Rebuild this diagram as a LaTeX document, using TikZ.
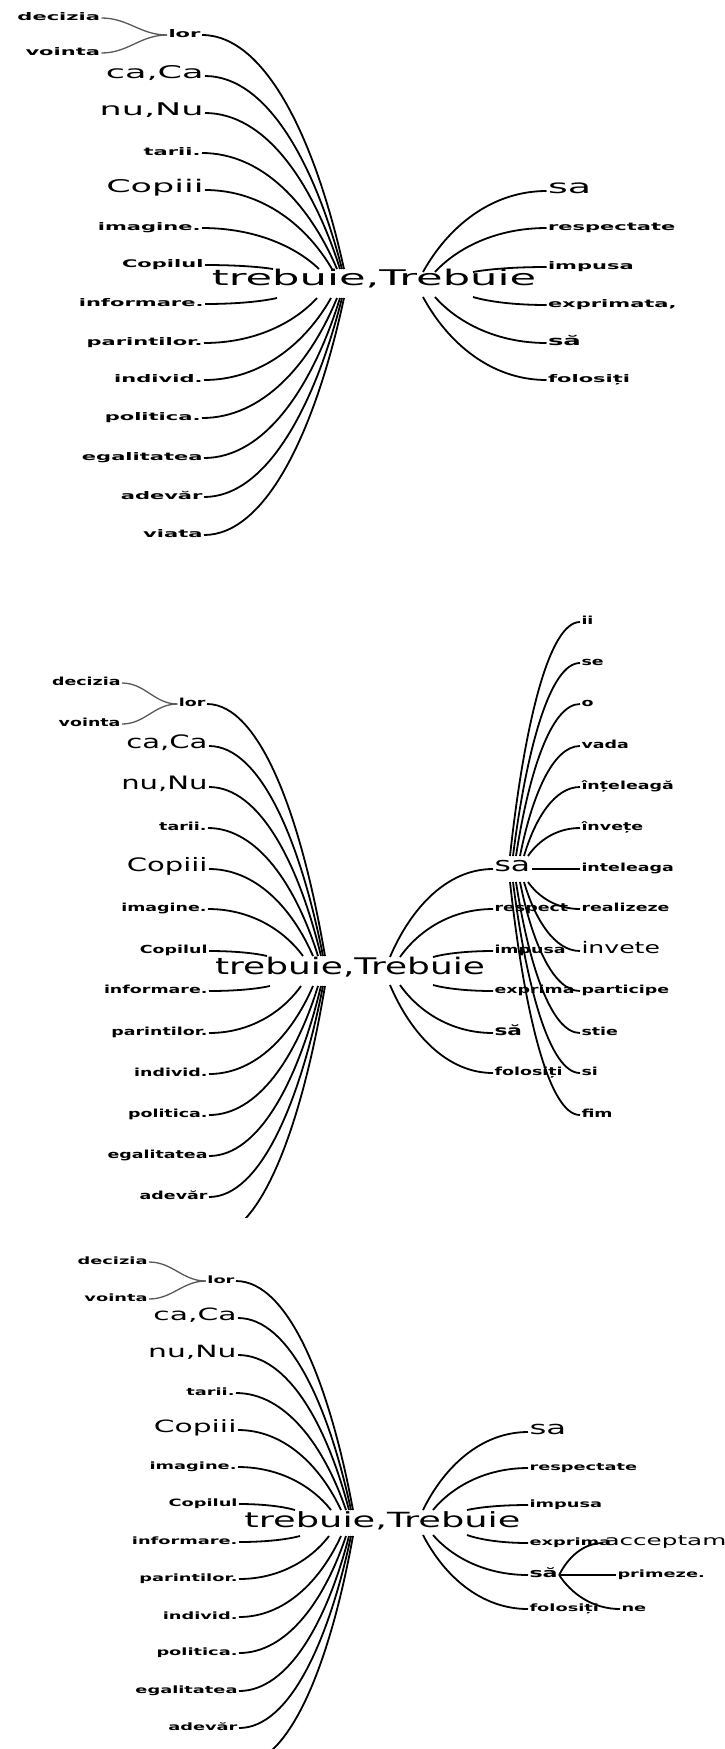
\documentclass[tikz,border=0pt]{standalone}
\usepackage{fontspec}
\usetikzlibrary{calc}
% wide sans faces, one per tree
\newfontfamily\fA{DejaVu Sans}[FakeStretch=2.0]
\newfontfamily\fB{DejaVu Sans}[FakeStretch=1.57]
\newfontfamily\fC{DejaVu Sans}[FakeStretch=1.76]

\tikzset{
  lbl/.style={inner sep=1.5pt, outer sep=0pt, text=black, text height=0.72em, text depth=0.18em},
  % tree A
  sA/.style={lbl, font=\fA\bfseries\fontsize{10.5}{12}\selectfont},
  mA/.style={lbl, font=\fA\fontsize{17.5}{20}\selectfont},
  vA/.style={lbl, font=\fA\fontsize{19}{22}\selectfont},
  dA/.style={lbl, font=\fA\bfseries\fontsize{13}{15}\selectfont},
  hA/.style={lbl, font=\fA\fontsize{21.6}{25}\selectfont},
  % tree B
  sB/.style={lbl, font=\fB\bfseries\fontsize{11.1}{13}\selectfont},
  mB/.style={lbl, font=\fB\fontsize{18.5}{21}\selectfont},
  vB/.style={lbl, font=\fB\fontsize{20}{23}\selectfont},
  dB/.style={lbl, font=\fB\bfseries\fontsize{13.8}{16}\selectfont},
  iB/.style={lbl, font=\fB\fontsize{16}{18}\selectfont},
  hB/.style={lbl, font=\fB\fontsize{22.9}{26}\selectfont},
  % tree C
  sC/.style={lbl, font=\fC\bfseries\fontsize{10.1}{12}\selectfont},
  mC/.style={lbl, font=\fC\fontsize{16.9}{19}\selectfont},
  vC/.style={lbl, font=\fC\fontsize{18.4}{21}\selectfont},
  dC/.style={lbl, font=\fC\bfseries\fontsize{12.6}{15}\selectfont},
  aC/.style={lbl, font=\fC\fontsize{14}{16}\selectfont},
  hC/.style={lbl, font=\fC\fontsize{20.9}{24}\selectfont},
  % connectors
  link/.style={draw=black, line width=1.8pt},
  thin link/.style={draw=black!65, line width=1.3pt},
  lcurve/.style={to path={let \p1=(\tikztostart), \p2=(\tikztotarget) in
     .. controls ($(\p1)+(0.45*\x2-0.45*\x1,0pt)$)
     and ($(\p2)-(0.2*\x2-0.2*\x1,0.55*\y2-0.55*\y1)$) .. (\tikztotarget)}},
  rcurve/.style={to path={let \p1=(\tikztostart), \p2=(\tikztotarget) in
     .. controls ($(\p1)+(0.2*\x2-0.2*\x1,0.55*\y2-0.55*\y1)$)
     and ($(\p2)-(0.45*\x2-0.45*\x1,0pt)$) .. (\tikztotarget)}},
}

\begin{document}
\begin{tikzpicture}[x=1pt,y=-1pt]
\useasboundingbox (0,0) rectangle (725,1749);
\fill[white] (0,0) rectangle (725,1749);
\clip (0,0) rectangle (725,1749);

% ================= tree A =================
\node[sA,anchor=east] (a-dec) at (101.5,18) {decizia};
\node[sA,anchor=east] (a-voi) at (101.5,53) {vointa};
\node[sA,anchor=east] (a-lor) at (202,35) {lor};
\node[mA,anchor=east] (a-ca)  at (205,76) {ca,Ca};
\node[mA,anchor=east] (a-nu)  at (205,113) {nu,Nu};
\node[sA,anchor=east] (a-tar) at (202,153) {tarii.};
\node[mA,anchor=east] (a-cop) at (205,190) {Copiii};
\node[sA,anchor=east] (a-ima) at (202,228) {imagine.};
\node[sA,anchor=east] (a-cpl) at (205,265) {Copilul};
\node[sA,anchor=east] (a-inf) at (205,304) {informare.};
\node[sA,anchor=east] (a-par) at (204,343) {parintilor.};
\node[sA,anchor=east] (a-ind) at (204,380) {individ.};
\node[sA,anchor=east] (a-pol) at (202,418) {politica.};
\node[sA,anchor=east] (a-ega) at (204,458) {egalitatea};
\node[sA,anchor=east] (a-ade) at (204,497) {adevăr};
\node[sA,anchor=east] (a-via) at (204,535) {viata};
\node[hA] (a-treb) at (374,283) {trebuie,Trebuie};
\node[vA,anchor=west] (a-sa)  at (546.5,191) {sa};
\node[sA,anchor=west] (a-res) at (546.5,228) {respectate};
\node[sA,anchor=west] (a-imp) at (546.5,267) {impusa};
\node[sA,anchor=west] (a-exp) at (546.5,305) {exprimata,};
\node[dA,anchor=west] (a-sa2) at (546.5,343) {să};
\node[sA,anchor=west] (a-fol) at (546.5,380) {folosiți};
\coordinate (a-up) at (344,269);
\coordinate (a-dn) at (344,298);
\coordinate (a-rup) at (423,272);
\coordinate (a-rdn) at (423,297);

\draw[thin link] (a-dec.east) to[out=0,in=180] (a-lor.west);
\draw[thin link] (a-voi.east) to[out=0,in=180] (a-lor.west);
\draw[link] (a-lor.east) to[lcurve] (a-up);
\draw[link] (a-ca.east)  to[lcurve] ([xshift=-2pt]a-up);
\draw[link] (a-nu.east)  to[lcurve] ([xshift=-4pt]a-up);
\draw[link] (a-tar.east) to[lcurve] ([xshift=-7pt]a-up);
\draw[link] (a-cop.east) to[lcurve] ([xshift=-12pt]a-up);
\draw[link] (a-ima.east) to[lcurve] ([xshift=-25pt]a-up);
\draw[link] (a-cpl.east) to[lcurve] ([xshift=-71pt]a-up);
\draw[link] (a-inf.east) to[lcurve] ([xshift=-67pt]a-dn);
\draw[link] (a-par.east) to[lcurve] ([xshift=-27pt]a-dn);
\draw[link] (a-ind.east) to[lcurve] ([xshift=-13pt]a-dn);
\draw[link] (a-pol.east) to[lcurve] ([xshift=-7pt]a-dn);
\draw[link] (a-ega.east) to[lcurve] ([xshift=-4pt]a-dn);
\draw[link] (a-ade.east) to[lcurve] ([xshift=-2pt]a-dn);
\draw[link] (a-via.east) to[lcurve] (a-dn);
\draw[link] (a-rup) to[rcurve] (a-sa.west);
\draw[link] ([xshift=12pt]a-rup) to[rcurve] (a-res.west);
\draw[link] ([xshift=50pt]a-rup) to[rcurve] (a-imp.west);
\draw[link] ([xshift=50pt]a-rdn) to[rcurve] (a-exp.west);
\draw[link] ([xshift=12pt]a-rdn) to[rcurve] (a-sa2.west);
\draw[link] (a-rdn) to[rcurve] (a-fol.west);

% ================= tree B =================
\node[sB,anchor=east] (b-dec) at (122,683) {decizia};
\node[sB,anchor=east] (b-voi) at (122,724) {vointa};
\node[sB,anchor=east] (b-lor) at (207,704) {lor};
\node[mB,anchor=east] (b-ca)  at (209,746) {ca,Ca};
\node[mB,anchor=east] (b-nu)  at (209,787) {nu,Nu};
\node[sB,anchor=east] (b-tar) at (208,828) {tarii.};
\node[mB,anchor=east] (b-cop) at (209,869) {Copiii};
\node[sB,anchor=east] (b-ima) at (208,909) {imagine.};
\node[sB,anchor=east] (b-cpl) at (209,951) {Copilul};
\node[sB,anchor=east] (b-inf) at (209,991) {informare.};
\node[sB,anchor=east] (b-par) at (209,1033) {parintilor.};
\node[sB,anchor=east] (b-ind) at (209,1074) {individ.};
\node[sB,anchor=east] (b-pol) at (209,1115) {politica.};
\node[sB,anchor=east] (b-ega) at (209,1156) {egalitatea};
\node[sB,anchor=east] (b-ade) at (209,1197) {adevăr};
\coordinate (b-via) at (209,1238);
\node[hB] (b-treb) at (350,972) {trebuie,Trebuie};
\node[vB,anchor=west] (b-sa)  at (493,869) {sa};
\node[sB,anchor=west] (b-res) at (493,909) {respect};
\node[sB,anchor=west] (b-imp) at (493,951) {impusa};
\node[sB,anchor=west] (b-exp) at (493,991) {exprima};
\node[dB,anchor=west] (b-sa2) at (493,1033) {să};
\node[sB,anchor=west] (b-fol) at (493,1073) {folosiți};
\node[sB,anchor=west] (b-ii)  at (580,622) {ii};
\node[sB,anchor=west] (b-se)  at (580,663) {se};
\node[sB,anchor=west] (b-o)   at (580,704) {o};
\node[sB,anchor=west] (b-vad) at (580,746) {vada};
\node[sB,anchor=west] (b-int) at (580,787) {înțeleagă};
\node[sB,anchor=west] (b-inv) at (580,828) {învețe};
\node[sB,anchor=west] (b-itl) at (580,869) {inteleaga};
\node[sB,anchor=west] (b-rea) at (580,909) {realizeze};
\node[iB,anchor=west] (b-ive) at (580,951) {invete};
\node[sB,anchor=west] (b-prt) at (580,991) {participe};
\node[sB,anchor=west] (b-sti) at (580,1033) {stie};
\node[sB,anchor=west] (b-si)  at (580,1073) {si};
\node[sB,anchor=west] (b-fim) at (580,1115) {fim};
\coordinate (b-up) at (325,956);
\coordinate (b-dn) at (325,986);
\coordinate (b-rup) at (390,957);
\coordinate (b-rdn) at (390,985);
\coordinate (b-sup) at (510,856);
\coordinate (b-sdn) at (510,882);

\draw[thin link] (b-dec.east) to[out=0,in=180] (b-lor.west);
\draw[thin link] (b-voi.east) to[out=0,in=180] (b-lor.west);
\draw[link] (b-lor.east) to[lcurve] (b-up);
\draw[link] (b-ca.east)  to[lcurve] ([xshift=-2pt]b-up);
\draw[link] (b-nu.east)  to[lcurve] ([xshift=-4pt]b-up);
\draw[link] (b-tar.east) to[lcurve] ([xshift=-7pt]b-up);
\draw[link] (b-cop.east) to[lcurve] ([xshift=-12pt]b-up);
\draw[link] (b-ima.east) to[lcurve] ([xshift=-22pt]b-up);
\draw[link] (b-cpl.east) to[lcurve] ([xshift=-58pt]b-up);
\draw[link] (b-inf.east) to[lcurve] ([xshift=-55pt]b-dn);
\draw[link] (b-par.east) to[lcurve] ([xshift=-24pt]b-dn);
\draw[link] (b-ind.east) to[lcurve] ([xshift=-12pt]b-dn);
\draw[link] (b-pol.east) to[lcurve] ([xshift=-7pt]b-dn);
\draw[link] (b-ega.east) to[lcurve] ([xshift=-4pt]b-dn);
\draw[link] (b-ade.east) to[lcurve] ([xshift=-2pt]b-dn);
\begin{scope}
  \clip (0,600) rectangle (725,1217);
  \draw[link] (b-via) to[lcurve] (b-dn);
\end{scope}
\draw[link] (b-rup) to[rcurve] (b-sa.west);
\draw[link] ([xshift=10pt]b-rup) to[rcurve] (b-res.west);
\draw[link] ([xshift=43pt]b-rup) to[rcurve] (b-imp.west);
\draw[link] ([xshift=43pt]b-rdn) to[rcurve] (b-exp.west);
\draw[link] ([xshift=10pt]b-rdn) to[rcurve] (b-sa2.west);
\draw[link] (b-rdn) to[rcurve] (b-fol.west);
\draw[link] (b-sup) to[rcurve] (b-ii.west);
\draw[link] ([xshift=3pt]b-sup) to[rcurve] (b-se.west);
\draw[link] ([xshift=6pt]b-sup) to[rcurve] (b-o.west);
\draw[link] ([xshift=10pt]b-sup) to[rcurve] (b-vad.west);
\draw[link] ([xshift=14pt]b-sup) to[rcurve] (b-int.west);
\draw[link] ([xshift=18pt]b-sup) to[rcurve] (b-inv.west);
\draw[link] (b-sa.east) -- (b-itl.west);
\draw[link] ([xshift=18pt]b-sdn) to[rcurve] (b-rea.west);
\draw[link] ([xshift=14pt]b-sdn) to[rcurve] (b-ive.west);
\draw[link] ([xshift=10pt]b-sdn) to[rcurve] (b-prt.west);
\draw[link] ([xshift=6pt]b-sdn) to[rcurve] (b-sti.west);
\draw[link] ([xshift=3pt]b-sdn) to[rcurve] (b-si.west);
\draw[link] (b-sdn) to[rcurve] (b-fim.west);

% ================= tree C =================
\node[sC,anchor=east] (c-dec) at (149,1262) {decizia};
\node[sC,anchor=east] (c-voi) at (149,1299) {vointa};
\node[sC,anchor=east] (c-lor) at (236,1281) {lor};
\node[mC,anchor=east] (c-ca)  at (238,1318) {ca,Ca};
\node[mC,anchor=east] (c-nu)  at (238,1355) {nu,Nu};
\node[sC,anchor=east] (c-tar) at (236,1393) {tarii.};
\node[mC,anchor=east] (c-cop) at (238,1430) {Copiii};
\node[sC,anchor=east] (c-ima) at (238,1467) {imagine.};
\node[sC,anchor=east] (c-cpl) at (239,1504) {Copilul};
\node[sC,anchor=east] (c-inf) at (239,1542) {informare.};
\node[sC,anchor=east] (c-par) at (239,1579) {parintilor.};
\node[sC,anchor=east] (c-ind) at (239,1617) {individ.};
\node[sC,anchor=east] (c-pol) at (239,1653) {politica.};
\node[sC,anchor=east] (c-ega) at (239,1691) {egalitatea};
\node[sC,anchor=east] (c-ade) at (239,1728) {adevăr};
\coordinate (c-via) at (239,1765);
\node[hC] (c-treb) at (382.5,1525) {trebuie,Trebuie};
\node[vC,anchor=west] (c-sa)  at (528,1432) {sa};
\node[sC,anchor=west] (c-res) at (528,1468) {respectate};
\node[sC,anchor=west] (c-imp) at (528,1505) {impusa};
\node[sC,anchor=west] (c-exp) at (528,1543) {exprima};
\node[dC,anchor=west] (c-sa2) at (528,1575) {să};
\node[sC,anchor=west] (c-fol) at (528,1609) {folosiți};
\node[aC,anchor=west] (c-acc) at (603,1543) {acceptam};
\node[sC,anchor=west] (c-pri) at (616,1575) {primeze.};
\node[sC,anchor=west] (c-ne)  at (620,1609) {ne};
\coordinate (c-up) at (353,1510);
\coordinate (c-dn) at (353,1536);
\coordinate (c-rup) at (423,1510);
\coordinate (c-rdn) at (423,1535);

\draw[thin link] (c-dec.east) to[out=0,in=180] (c-lor.west);
\draw[thin link] (c-voi.east) to[out=0,in=180] (c-lor.west);
\draw[link] (c-lor.east) to[lcurve] (c-up);
\draw[link] (c-ca.east)  to[lcurve] ([xshift=-2pt]c-up);
\draw[link] (c-nu.east)  to[lcurve] ([xshift=-4pt]c-up);
\draw[link] (c-tar.east) to[lcurve] ([xshift=-7pt]c-up);
\draw[link] (c-cop.east) to[lcurve] ([xshift=-12pt]c-up);
\draw[link] (c-ima.east) to[lcurve] ([xshift=-22pt]c-up);
\draw[link] (c-cpl.east) to[lcurve] ([xshift=-58pt]c-up);
\draw[link] (c-inf.east) to[lcurve] ([xshift=-53pt]c-dn);
\draw[link] (c-par.east) to[lcurve] ([xshift=-24pt]c-dn);
\draw[link] (c-ind.east) to[lcurve] ([xshift=-12pt]c-dn);
\draw[link] (c-pol.east) to[lcurve] ([xshift=-7pt]c-dn);
\draw[link] (c-ega.east) to[lcurve] ([xshift=-4pt]c-dn);
\draw[link] (c-ade.east) to[lcurve] ([xshift=-2pt]c-dn);
\draw[link] (c-via) to[lcurve] (c-dn);
\draw[link] (c-rup) to[rcurve] (c-sa.west);
\draw[link] ([xshift=10pt]c-rup) to[rcurve] (c-res.west);
\draw[link] ([xshift=44pt]c-rup) to[rcurve] (c-imp.west);
\draw[link] ([xshift=44pt]c-rdn) to[rcurve] (c-exp.west);
\draw[link] ([xshift=10pt]c-rdn) to[rcurve] (c-sa2.west);
\draw[link] (c-rdn) to[rcurve] (c-fol.west);
\draw[link] (c-sa2.east) to[rcurve] (c-acc.west);
\draw[link] (c-sa2.east) -- (c-pri.west);
\draw[link] (c-sa2.east) to[rcurve] (c-ne.west);
\end{tikzpicture}
\end{document}
